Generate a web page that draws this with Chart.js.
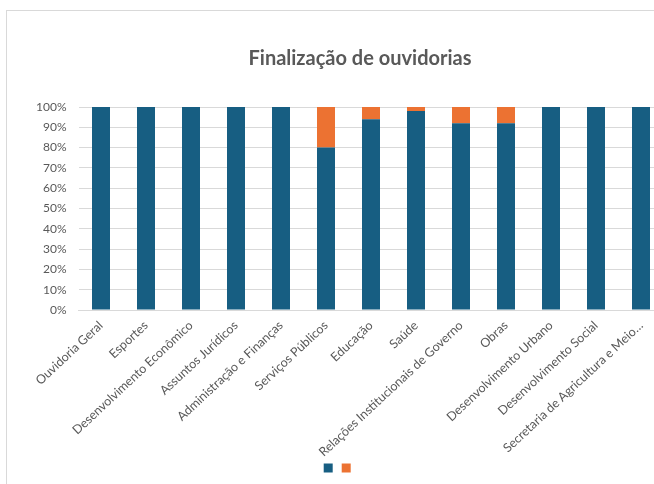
<!DOCTYPE html>
<html>
<head>
<meta charset="utf-8">
<script src="https://cdn.jsdelivr.net/npm/chart.js@4/dist/chart.umd.min.js"></script>
<style>
  html, body { margin: 0; padding: 0; background: #fff; overflow: hidden; width: 654px; height: 484px; }
  #frame { position: absolute; left: 6px; top: 10px; width: 708px; height: 490px; border: 1px solid #d9d9d9; box-sizing: border-box; background: #fff; }
  #wrap { position: absolute; left: 0; top: 0; width: 706px; height: 488px; }
</style>
</head>
<body>
<div id="frame"><div id="wrap"><canvas id="c"></canvas></div></div>
<script>
const categories = [
  "Ouvidoria Geral", "Esportes", "Desenvolvimento Econômico", "Assuntos Jurídicos",
  "Administração e Finanças", "Serviços Públicos", "Educação", "Saúde",
  "Relações Institucionais de Governo", "Obras", "Desenvolvimento Urbano",
  "Desenvolvimento Social", "Secretaria de Agricultura e Meio…"
];
const finalizadas = [100, 100, 100, 100, 100, 80, 94, 98, 92, 92, 100, 100, 100];
const pendentes   = [0, 0, 0, 0, 0, 20, 6, 2, 8, 8, 0, 0, 0];
const yTicks = [0, 10, 20, 30, 40, 50, 60, 70, 80, 90, 100];
const titleText = "Finalização de ouvidorias";

const FONT = "Lato, 'Open Sans', sans-serif";
const GREY = "#595959";

new Chart(document.getElementById('c'), {
  type: 'bar',
  data: {
    labels: categories,
    datasets: [
      { label: "", data: finalizadas, backgroundColor: "#175E82", barPercentage: 0.4, categoryPercentage: 1, yAxisID: 'y' },
      { label: "", data: pendentes, backgroundColor: "#EC7232", barPercentage: 0.4, categoryPercentage: 1, yAxisID: 'y' }
    ]
  },
  options: {
    responsive: true,
    maintainAspectRatio: false,
    animation: false,
    layout: { padding: { left: 26, right: 26, top: 20, bottom: 16 } },
    plugins: {
      title: {
        display: true, text: titleText, color: GREY,
        font: { family: FONT, size: 20, weight: 'bold' },
        padding: { top: 16, bottom: 36 }
      },
      legend: {
        position: 'bottom',
        labels: {
          boxWidth: 9, boxHeight: 9, padding: 4, color: GREY,
          font: { family: FONT, size: 10 },
          generateLabels: (chart) => chart.data.datasets.map((ds, i) => ({
            text: i === 1 ? "\u2007\u2007\u2007\u2007\u2007\u2007\u2007" : "",
            fillStyle: ds.backgroundColor, strokeStyle: ds.backgroundColor,
            lineWidth: 0, datasetIndex: i, hidden: false
          }))
        }
      },
      tooltip: { enabled: false }
    },
    scales: {
      x: {
        stacked: true,
        grid: { display: false },
        border: { display: true, color: "#d9d9d9" },
        afterFit: (a) => { a.height = 149; },
        ticks: {
          color: GREY, font: { family: FONT, size: 12.5 },
          minRotation: 43, maxRotation: 43, autoSkip: false, padding: 0
        }
      },
      y: {
        stacked: true, min: 0, max: 100, position: 'left',
        afterBuildTicks: (axis) => { axis.ticks = yTicks.map(v => ({ value: v })); },
        afterFit: (a) => { a.width = 45.5; },
        grid: { color: "#d9d9d9", drawTicks: false },
        border: { display: false },
        ticks: {
          color: GREY, font: { family: FONT, size: 12 }, padding: 12,
          callback: (v) => v + "%"
        }
      },
      yR: {
        position: 'right', display: true, min: 0, max: 100,
        afterFit: (a) => { a.width = 23.5; },
        grid: { display: false, drawOnChartArea: false },
        border: { display: false },
        ticks: { display: false }
      }
    }
  }
});
</script>
</body>
</html>
